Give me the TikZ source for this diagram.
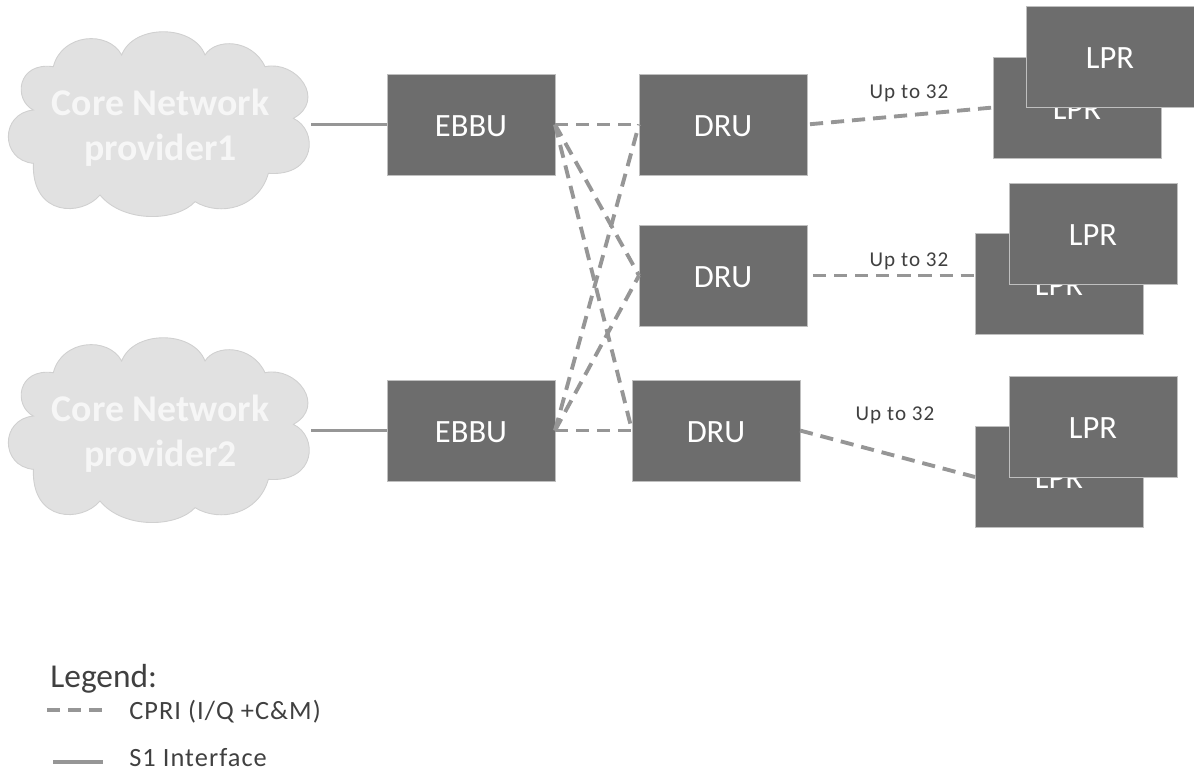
\documentclass[tikz,border=0pt]{standalone}
\usepackage{fontspec}
\setmainfont{Carlito}

\begin{document}
\begin{tikzpicture}[y=-1cm,
		box/.style={draw=black!25, line width=0.5pt, fill=boxgray, text=white, inner sep=0pt, outer sep=0pt, minimum width=3.36cm, minimum height=2.02cm, text height=13.2pt, text depth=0pt, font=\fontsize{18.5}{20}\selectfont},
		cloudpath/.style={draw=cloudedge, line width=0.5pt, fill=cloudgray, x=0.006667cm, y=-0.006667cm},
		cloudtext/.style={text=cloudword, inner sep=0pt, outer sep=0pt, minimum width=6.02cm, minimum height=3.72cm, align=center, font=\bfseries\fontsize{21.5}{25.5}\selectfont},
		cpri/.style={draw=linegray, line width=2.2pt, dash pattern=on 7.5pt off 4.5pt},
		sone/.style={draw=linegray, line width=2.2pt},
		lbl/.style={text=textgray, inner sep=0pt, font=\fontsize{12}{14}\selectfont\addfontfeatures{LetterSpace=5}},
		legend/.style={text=textgray, inner sep=0pt, font=\fontsize{15}{17}\selectfont\addfontfeatures{LetterSpace=4}}]
	\definecolor{boxgray}{HTML}{6D6D6D}
	\definecolor{cloudgray}{HTML}{E1E1E1}
	\definecolor{cloudedge}{HTML}{D0D0D0}
	\definecolor{cloudword}{HTML}{F6F6F6}
	\definecolor{linegray}{HTML}{969696}
	\definecolor{textgray}{HTML}{404040}
	\useasboundingbox (0, 0) rectangle (23.88, 15.44);

	\foreach \cloudy in {0.6, 6.72} {
		\begin{scope}[shift={(0, \cloudy)}]
			\draw[cloudpath] (160, 110)
				.. controls (185, 10) and (325, 0) .. (365, 75)
				.. controls (400, -18) and (580, -18) .. (615, 75)
				.. controls (645, 25) and (755, 25) .. (795, 110)
				.. controls (890, 90) and (980, 210) .. (880, 265)
				.. controls (955, 300) and (950, 440) .. (805, 430)
				.. controls (775, 535) and (660, 560) .. (585, 515)
				.. controls (530, 575) and (370, 580) .. (300, 495)
				.. controls (245, 560) and (95, 560) .. (100, 400)
				.. controls (0, 390) and (0, 250) .. (100, 240)
				.. controls (40, 210) and (50, 95) .. cycle;
		\end{scope}
	}
	\node[cloudtext] (cloud1) at (3.21, 2.56) {Core Network\\provider1};
	\node[cloudtext] (cloud2) at (3.21, 8.68) {Core Network\\provider2};

	\node[box] (ebbu1) at (9.42, 2.49) {EBBU};
	\node[box] (ebbu2) at (9.42, 8.61) {EBBU};
	\node[box] (dru1) at (14.46, 2.49) {DRU};
	\node[box] (dru2) at (14.46, 5.51) {DRU};
	\node[box] (dru3) at (14.32, 8.61) {DRU};

	\node[box] (lprback1) at (21.54, 2.15) {LPR};
	\node[box] (lprfront1) at (22.2, 1.14) {LPR};
	\node[box] (lprback2) at (21.18, 5.68) {LPR};
	\node[box] (lprfront2) at (21.86, 4.67) {LPR};
	\node[box] (lprback3) at (21.18, 9.54) {LPR};
	\node[box] (lprfront3) at (21.86, 8.54) {LPR};

	\draw[sone] (cloud1.east |- ebbu1) -- (ebbu1);
	\draw[sone] (cloud2.east |- ebbu2) -- (ebbu2);

	\draw[cpri] (ebbu1.east) -- (dru1.west);
	\draw[cpri] (ebbu1.east) -- (dru2.west);
	\draw[cpri] (ebbu1.east) -- (dru3.west);
	\draw[cpri] (ebbu2.east) -- (dru1.west);
	\draw[cpri] (ebbu2.east) -- (dru2.west);
	\draw[cpri] (ebbu2.east) -- (dru3.west);

	\draw[cpri, shorten <=1.7pt] (dru1.east) -- (lprback1.west);
	\draw[cpri, shorten <=3.4pt] (dru2.east) -- (lprback2.west |- dru2.east);
	\draw[cpri] (dru3.east) -- (lprback3.west);

	\node[lbl] (count1) at (18.18, 1.86) {Up to 32};
	\node[lbl] (count2) at (18.18, 5.22) {Up to 32};
	\node[lbl] (count3) at (17.9, 8.3) {Up to 32};

	\node[legend, anchor=west, font=\fontsize{19}{22}\selectfont] (legendtitle) at (1.0, 13.58) {Legend:};
	\coordinate (cprifrom) at (0.94, 14.2);
	\coordinate (cprito) at (2.06, 14.2);
	\coordinate (sonefrom) at (1.06, 15.24);
	\coordinate (soneto) at (2.06, 15.24);
	\draw[cpri] (cprifrom) -- (cprito);
	\draw[sone] (sonefrom) -- (soneto);
	\node[legend, anchor=west] (cpritext) at (2.58, 14.24) {CPRI (I/Q +C\&M)};
	\node[legend, anchor=west] (sonetext) at (2.58, 15.16) {S1 Interface};
\end{tikzpicture}
\end{document}
